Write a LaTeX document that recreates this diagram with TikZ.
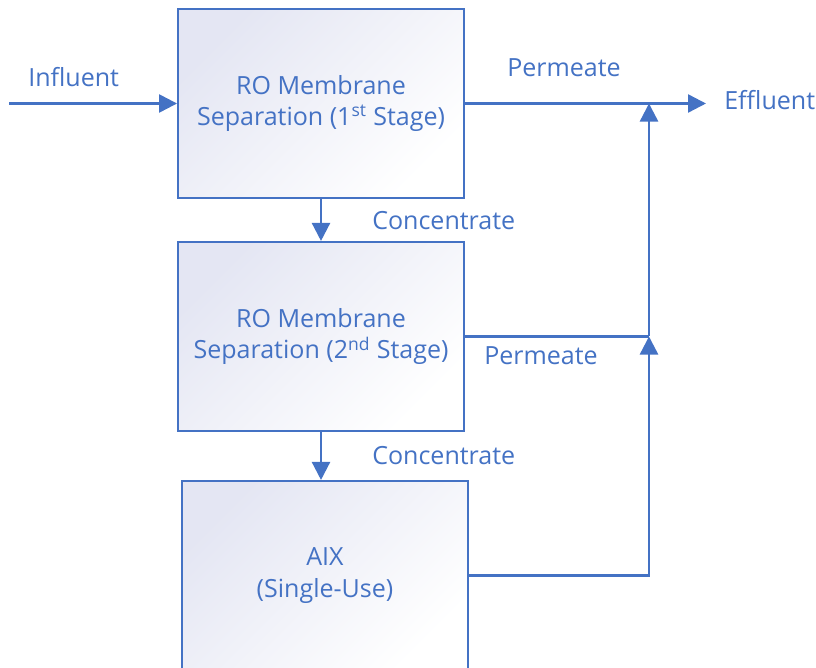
\documentclass[tikz,border=0pt]{standalone}
\usepackage{fontspec}
\setmainfont{Open Sans}
\usetikzlibrary{arrows.meta, positioning}
\definecolor{flowblue}{RGB}{68, 114, 196}
\definecolor{boxshade}{RGB}{228, 230, 243}

\begin{document}
\begin{tikzpicture}[x=0.025cm, y=-0.025cm,
  stage/.style={draw=flowblue, line width=1.3pt, top color=boxshade, middle color=white, bottom color=white, shading angle=45, minimum width=7.15cm, minimum height=4.73cm, align=center, text=flowblue, font=\fontsize{17.8}{22.5}\selectfont, inner sep=0pt},
  lbl/.style={text=flowblue, font=\fontsize{17.8}{22.5}\selectfont, inner sep=0pt, anchor=base west},
  arr/.style={-{Triangle[length=0.45cm, width=0.45cm]}, line width=1.7pt, flowblue},
  flow/.style={line width=1.7pt, flowblue},
]
  \clip (0,0) rectangle (816,668);
  % treatment stages
  \node[stage] (ro1) at (321,103.5) {RO Membrane\\Separation (1\textsuperscript{st} Stage)};
  \node[stage] (ro2) at (321,336.5) {RO Membrane\\Separation (2\textsuperscript{nd} Stage)};
  \node[stage] (aix) at (325,575.5) {AIX\\(Single-Use)};
  % stream labels
  \node[lbl] (influent) at (28,87) {Influent};
  \node[lbl] (perm1) at (507,77) {Permeate};
  \node[lbl] (effluent) at (724,110) {Effluent};
  \node[lbl] (conc1) at (372,230) {Concentrate};
  \node[lbl] (conc2) at (372,464) {Concentrate};
  \node[lbl] (perm2) at (484,365) {Permeate};
  % junctions
  \coordinate (src) at (9,103.5);
  \coordinate (out) at (706,103.5);
  \coordinate (j1) at (649,103.5);
  \coordinate (j2) at (649,336.5);
  % streams
  \draw[arr] (src) -- (ro1);
  \draw[arr] (ro1.east) -- (out);
  \draw[arr] (ro1) -- (ro2);
  \draw[arr] (ro2.south) -- (ro2.south |- aix.north);
  \draw[flow] (ro2.east) -- (j2);
  \draw[arr] (aix.east) -| (j2);
  \draw[arr] (j2) -- (j1);
\end{tikzpicture}
\end{document}
